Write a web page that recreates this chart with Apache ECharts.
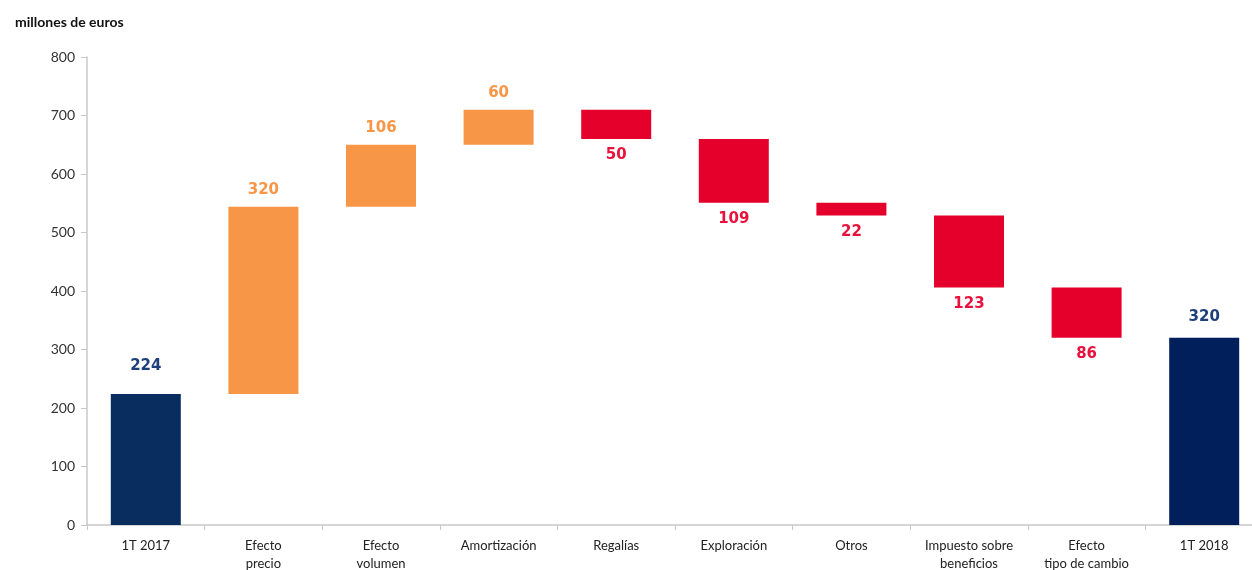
<!DOCTYPE html>
<html>
<head>
<meta charset="utf-8">
<script src="https://cdn.jsdelivr.net/npm/echarts@6/dist/echarts.min.js"></script>
<style>
    html, body { margin: 0; padding: 0; background: #fff; }
    .echarts { width: 1252px; height: 570px; }
</style>
</head>
<body>
<div class="echarts"></div>
<script>
// datos del gráfico
var categorias = ['1T 2017', 'Efecto\nprecio', 'Efecto\nvolumen', 'Amortización', 'Regalías', 'Exploración', 'Otros', 'Impuesto sobre\nbeneficios', 'Efecto\ntipo de cambio', '1T 2018'];
var valores = [224, 320, 106, 60, 50, 109, 22, 123, 86, 320];
// total / sube / baja
var tipos = ['total', 'sube', 'sube', 'sube', 'baja', 'baja', 'baja', 'baja', 'baja', 'total'];
var ticksY = [0, 100, 200, 300, 400, 500, 600, 700, 800];

var colores = {
    total: ['#0a2d5f', '#001f5b'],
    sube: '#f79646',
    baja: '#e4002b'
};
var coloresLabel = {
    total: '#1d3f7c',
    sube: '#f79646',
    baja: '#e8123d'
};

function myecharts() {
    var myChart = echarts.init(document.querySelector('.echarts'));

    // base invisible y barras visibles
    var base = [];
    var barras = [];
    var acum = 0;
    var nTotal = 0;
    for (var i = 0; i < valores.length; i++) {
        var v = valores[i];
        var t = tipos[i];
        var color, ini;
        if (t == 'total') {
            ini = 0;
            acum = v;
            color = colores.total[nTotal];
            nTotal++;
        } else if (t == 'sube') {
            ini = acum;
            acum += v;
            color = colores.sube;
        } else {
            acum -= v;
            ini = acum;
            color = colores.baja;
        }
        base.push(ini);
        var dist = 9;
        if (i == 0) dist = 20;
        if (i == valores.length - 1) dist = 13;
        barras.push({
            value: v,
            itemStyle: { color: color },
            label: {
                position: t == 'baja' ? 'bottom' : 'top',
                distance: dist,
                color: coloresLabel[t]
            }
        });
    }

    var option = {
        animation: false,
        title: {
            text: 'millones de euros',
            left: 10,
            top: 10,
            textStyle: {
                fontFamily: 'Lato',
                fontSize: 14,
                fontWeight: 'bold',
                color: '#111'
            }
        },
        grid: {
            left: 87,
            top: 57,
            bottom: 45,
            width: 1176,
            outerBoundsMode: 'none'
        },
        xAxis: {
            type: 'category',
            data: categorias,
            axisLine: { lineStyle: { color: '#c8c8c8', width: 1.5 } },
            axisTick: { show: true, length: 5, lineStyle: { color: '#c8c8c8' } },
            axisLabel: {
                fontFamily: 'Lato',
                fontSize: 13,
                color: '#222',
                margin: 12,
                lineHeight: 18,
                interval: 0
            }
        },
        yAxis: {
            type: 'value',
            min: ticksY[0],
            max: ticksY[ticksY.length - 1],
            interval: 100,
            splitLine: { show: false },
            axisLine: { show: true, lineStyle: { color: '#c8c8c8', width: 1.5 } },
            axisTick: { show: true, length: 6, lineStyle: { color: '#c8c8c8' } },
            axisLabel: {
                fontFamily: 'Lato',
                fontSize: 14,
                color: '#333',
                margin: 12
            }
        },
        series: [{
            type: 'bar',
            stack: 'w',
            barWidth: 70,
            data: base,
            itemStyle: { color: 'transparent' },
            silent: true
        }, {
            type: 'bar',
            stack: 'w',
            barWidth: 70,
            data: barras,
            label: {
                show: true,
                fontFamily: 'DejaVu Sans',
                fontWeight: 'bold',
                fontSize: 15
            }
        }]
    };
    myChart.setOption(option);
}
myecharts();
</script>
</body>
</html>
